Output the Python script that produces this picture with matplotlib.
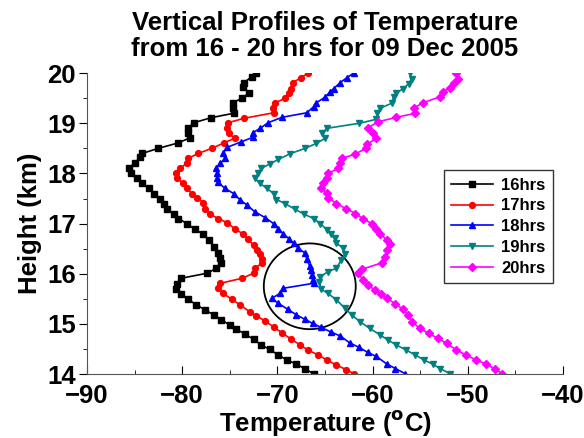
import matplotlib
matplotlib.use("Agg")
import matplotlib.pyplot as plt
from matplotlib.patches import Ellipse
from matplotlib.ticker import MultipleLocator

plt.rcParams['font.family'] = ['Liberation Sans', 'DejaVu Sans']
plt.rcParams['font.weight'] = 'bold'

# heights (km) and temperatures (deg C)
h16 = [20.00, 19.93, 19.81, 19.73, 19.61, 19.50, 19.41, 19.30, 19.20, 19.11, 19.01, 18.90, 18.80, 18.71,
       18.61, 18.50, 18.40, 18.32, 18.21, 18.10, 18.00, 17.90, 17.80, 17.70, 17.60, 17.50, 17.40, 17.29,
       17.19, 17.10, 17.00, 16.89, 16.79, 16.67, 16.54, 16.41, 16.31, 16.21, 16.11, 16.01, 15.91, 15.79,
       15.69, 15.60, 15.49, 15.38, 15.28, 15.18, 15.08, 14.98, 14.89, 14.80, 14.69, 14.58, 14.49, 14.38,
       14.28, 14.20, 14.10, 14.01]
t16 = [-72.3, -72.7, -73.5, -73.6, -73.0, -73.7, -74.7, -74.7, -74.6, -77.0, -78.8, -79.4, -79.4, -79.2,
       -80.4, -82.5, -84.2, -84.4, -85.0, -85.6, -85.4, -84.8, -84.2, -83.5, -83.0, -82.3, -81.9, -81.6,
       -80.9, -80.4, -79.5, -78.7, -77.8, -77.2, -76.7, -76.2, -76.0, -75.9, -76.4, -77.4, -80.1, -80.5,
       -80.6, -80.1, -79.4, -78.5, -77.6, -76.7, -75.9, -75.0, -74.3, -73.4, -72.5, -71.7, -70.8, -69.9,
       -69.0, -68.0, -67.1, -66.2]

h17 = [20.00, 19.91, 19.81, 19.69, 19.60, 19.50, 19.40, 19.30, 19.21, 19.10, 19.01, 18.90, 18.80, 18.70,
       18.61, 18.50, 18.40, 18.30, 18.21, 18.10, 18.00, 17.90, 17.80, 17.70, 17.60, 17.52, 17.42, 17.30,
       17.19, 17.10, 17.02, 16.90, 16.79, 16.69, 16.57, 16.48, 16.39, 16.29, 16.21, 16.11, 16.01, 15.91,
       15.81, 15.71, 15.61, 15.49, 15.38, 15.24, 15.16, 15.06, 14.94, 14.82, 14.70, 14.58, 14.48, 14.38,
       14.28, 14.18, 14.09, 14.01]
t17 = [-66.8, -67.5, -68.4, -68.6, -68.8, -69.2, -70.3, -70.5, -70.4, -73.5, -75.2, -75.3, -75.1, -74.5,
       -75.6, -76.9, -78.3, -79.4, -79.5, -80.2, -80.6, -80.5, -79.9, -79.5, -79.0, -78.4, -77.8, -77.6,
       -77.1, -76.2, -75.3, -74.5, -73.6, -73.1, -72.5, -72.1, -71.8, -71.6, -71.6, -72.4, -72.5, -73.7,
       -76.0, -76.2, -75.7, -74.8, -73.9, -72.9, -72.2, -71.3, -70.4, -69.5, -68.6, -67.6, -66.8, -65.7,
       -64.8, -63.8, -62.8, -62.0]

h18 = [20.00, 19.91, 19.81, 19.69, 19.62, 19.52, 19.41, 19.33, 19.21, 19.12, 19.01, 18.90, 18.81, 18.72,
       18.63, 18.52, 18.40, 18.30, 18.20, 18.10, 18.00, 17.90, 17.82, 17.70, 17.60, 17.47, 17.37, 17.24,
       17.12, 17.00, 16.90, 16.80, 16.70, 16.61, 16.51, 16.41, 16.29, 16.15, 16.07, 15.97, 15.87, 15.81,
       15.71, 15.61, 15.51, 15.41, 15.29, 15.18, 15.09, 15.01, 14.93, 14.84, 14.76, 14.62, 14.53, 14.43,
       14.35, 14.20, 14.11, 14.01]
t18 = [-62.0, -62.7, -63.4, -64.1, -64.5, -65.0, -65.9, -66.2, -66.9, -69.5, -71.0, -71.8, -72.6, -72.6,
       -73.8, -75.3, -75.7, -75.5, -76.0, -76.5, -76.3, -76.3, -76.2, -75.5, -74.6, -73.9, -73.2, -72.4,
       -71.3, -70.4, -69.9, -69.4, -68.8, -68.3, -67.8, -67.1, -66.9, -66.6, -66.5, -66.4, -66.3, -66.2,
       -69.4, -69.7, -70.6, -69.9, -68.9, -68.0, -67.1, -66.3, -65.4, -64.4, -63.4, -62.4, -61.4, -60.5,
       -59.6, -58.5, -57.6, -56.6]

h19 = [20.00, 19.89, 19.79, 19.69, 19.60, 19.52, 19.40, 19.30, 19.20, 19.08, 19.00, 18.90, 18.80, 18.70,
       18.60, 18.50, 18.39, 18.28, 18.19, 18.10, 18.00, 17.90, 17.80, 17.70, 17.60, 17.48, 17.40, 17.29,
       17.19, 17.10, 17.00, 16.88, 16.80, 16.71, 16.61, 16.51, 16.39, 16.27, 16.11, 16.04, 15.94, 15.84,
       15.69, 15.61, 15.48, 15.31, 15.18, 15.04, 14.91, 14.78, 14.68, 14.58, 14.48, 14.38, 14.28, 14.20,
       14.11, 14.01]
t19 = [-56.1, -55.9, -56.2, -56.8, -57.5, -57.8, -58.0, -59.2, -59.5, -59.6, -61.4, -64.8, -65.3, -65.0,
       -65.9, -67.1, -68.7, -69.9, -70.8, -71.7, -72.0, -72.4, -71.8, -71.1, -70.4, -70.1, -69.2, -68.2,
       -67.2, -66.2, -65.5, -64.8, -64.4, -64.0, -63.8, -63.1, -62.9, -63.3, -63.8, -64.7, -65.5, -65.6,
       -65.4, -64.7, -63.8, -62.9, -62.2, -61.3, -60.3, -59.2, -58.4, -57.5, -56.5, -55.5, -54.6, -53.7,
       -52.9, -51.9]

h20 = [20.00, 19.89, 19.81, 19.71, 19.63, 19.53, 19.41, 19.30, 19.20, 19.12, 19.03, 18.91, 18.81, 18.70,
       18.58, 18.50, 18.39, 18.30, 18.20, 18.10, 18.00, 17.90, 17.80, 17.70, 17.61, 17.52, 17.40, 17.30,
       17.20, 17.10, 17.00, 16.90, 16.80, 16.67, 16.59, 16.47, 16.34, 16.22, 16.09, 16.01, 15.87, 15.77,
       15.67, 15.59, 15.51, 15.40, 15.29, 15.18, 15.04, 14.91, 14.81, 14.71, 14.61, 14.48, 14.38, 14.28,
       14.20, 14.10, 14.01]
t20 = [-51.2, -51.0, -51.5, -51.9, -52.6, -52.9, -54.7, -55.7, -55.5, -57.5, -59.4, -60.5, -60.0, -59.6,
       -60.6, -60.7, -61.8, -63.2, -63.4, -63.6, -64.7, -64.8, -65.2, -65.4, -64.8, -64.7, -63.8, -62.8,
       -61.8, -61.0, -60.1, -59.6, -59.2, -58.5, -58.2, -58.5, -58.7, -59.0, -61.1, -61.5, -61.0, -60.5,
       -59.7, -59.1, -58.5, -57.6, -56.8, -56.3, -55.9, -55.0, -54.1, -53.1, -52.2, -51.2, -50.2, -49.1,
       -48.1, -47.1, -46.4]

labels = ['16hrs', '17hrs', '18hrs', '19hrs', '20hrs']
colors = ['black', 'red', 'blue', '#008080', 'magenta']
markers = ['s', 'o', '^', 'v', 'D']

fig = plt.figure(figsize=(5.84, 4.38), dpi=100)
ax = fig.add_axes([0.149, 0.146, 0.815, 0.687])

series = [(t16, h16), (t17, h17), (t18, h18), (t19, h19), (t20, h20)]
for (t, h), lab, c, m in zip(series, labels, colors, markers):
    ax.plot(t, h, color=c, marker=m, markersize=4.2 if m != 'D' else 3.6,
            linewidth=1.2, label=lab)

# circle marking the feature near 15.7 km
ax.add_patch(Ellipse((-66.6, 15.75), 9.66, 1.71, fill=False, edgecolor='black', linewidth=1.3))

ax.set_xlim(-90, -40)
ax.set_ylim(14, 20)
ax.xaxis.set_major_locator(MultipleLocator(10))
ax.xaxis.set_minor_locator(MultipleLocator(5))
ax.yaxis.set_major_locator(MultipleLocator(1))
ax.yaxis.set_minor_locator(MultipleLocator(0.5))
ax.tick_params(axis='x', which='both', direction='in', labelsize=18.5, pad=7)
ax.tick_params(axis='x', which='major', length=6)
ax.tick_params(axis='x', which='minor', length=3)
ax.tick_params(axis='y', which='both', direction='out', labelsize=18.5, pad=2)
ax.tick_params(axis='y', which='major', length=6)
ax.tick_params(axis='y', which='minor', length=3)
for s in ['top', 'right']:
    ax.spines[s].set_visible(False)
for s in ['left', 'bottom']:
    ax.spines[s].set_color('#555555')

ax.set_xlabel('Temperature ($\\mathbf{^{o}}$C)', fontsize=18.5, fontweight='bold', labelpad=0)
ax.set_ylabel('Height (km)', fontsize=18.5, fontweight='bold', labelpad=4)
ax.set_title('Vertical Profiles of Temperature\nfrom 16 - 20 hrs for 09 Dec 2005',
             fontsize=18.5, fontweight='bold', pad=12, linespacing=1.12)

leg = ax.legend(loc='upper left', bbox_to_anchor=(0.75, 0.678), fontsize=12, frameon=True,
                fancybox=False, edgecolor='black', markerfirst=True, numpoints=1,
                borderaxespad=0, handlelength=2.5, labelspacing=0.35, borderpad=0.45,
                handletextpad=0.5)
leg.get_frame().set_linewidth(1.0)
for t in leg.get_texts():
    t.set_fontweight('bold')

fig.savefig('out.png', dpi=100)
